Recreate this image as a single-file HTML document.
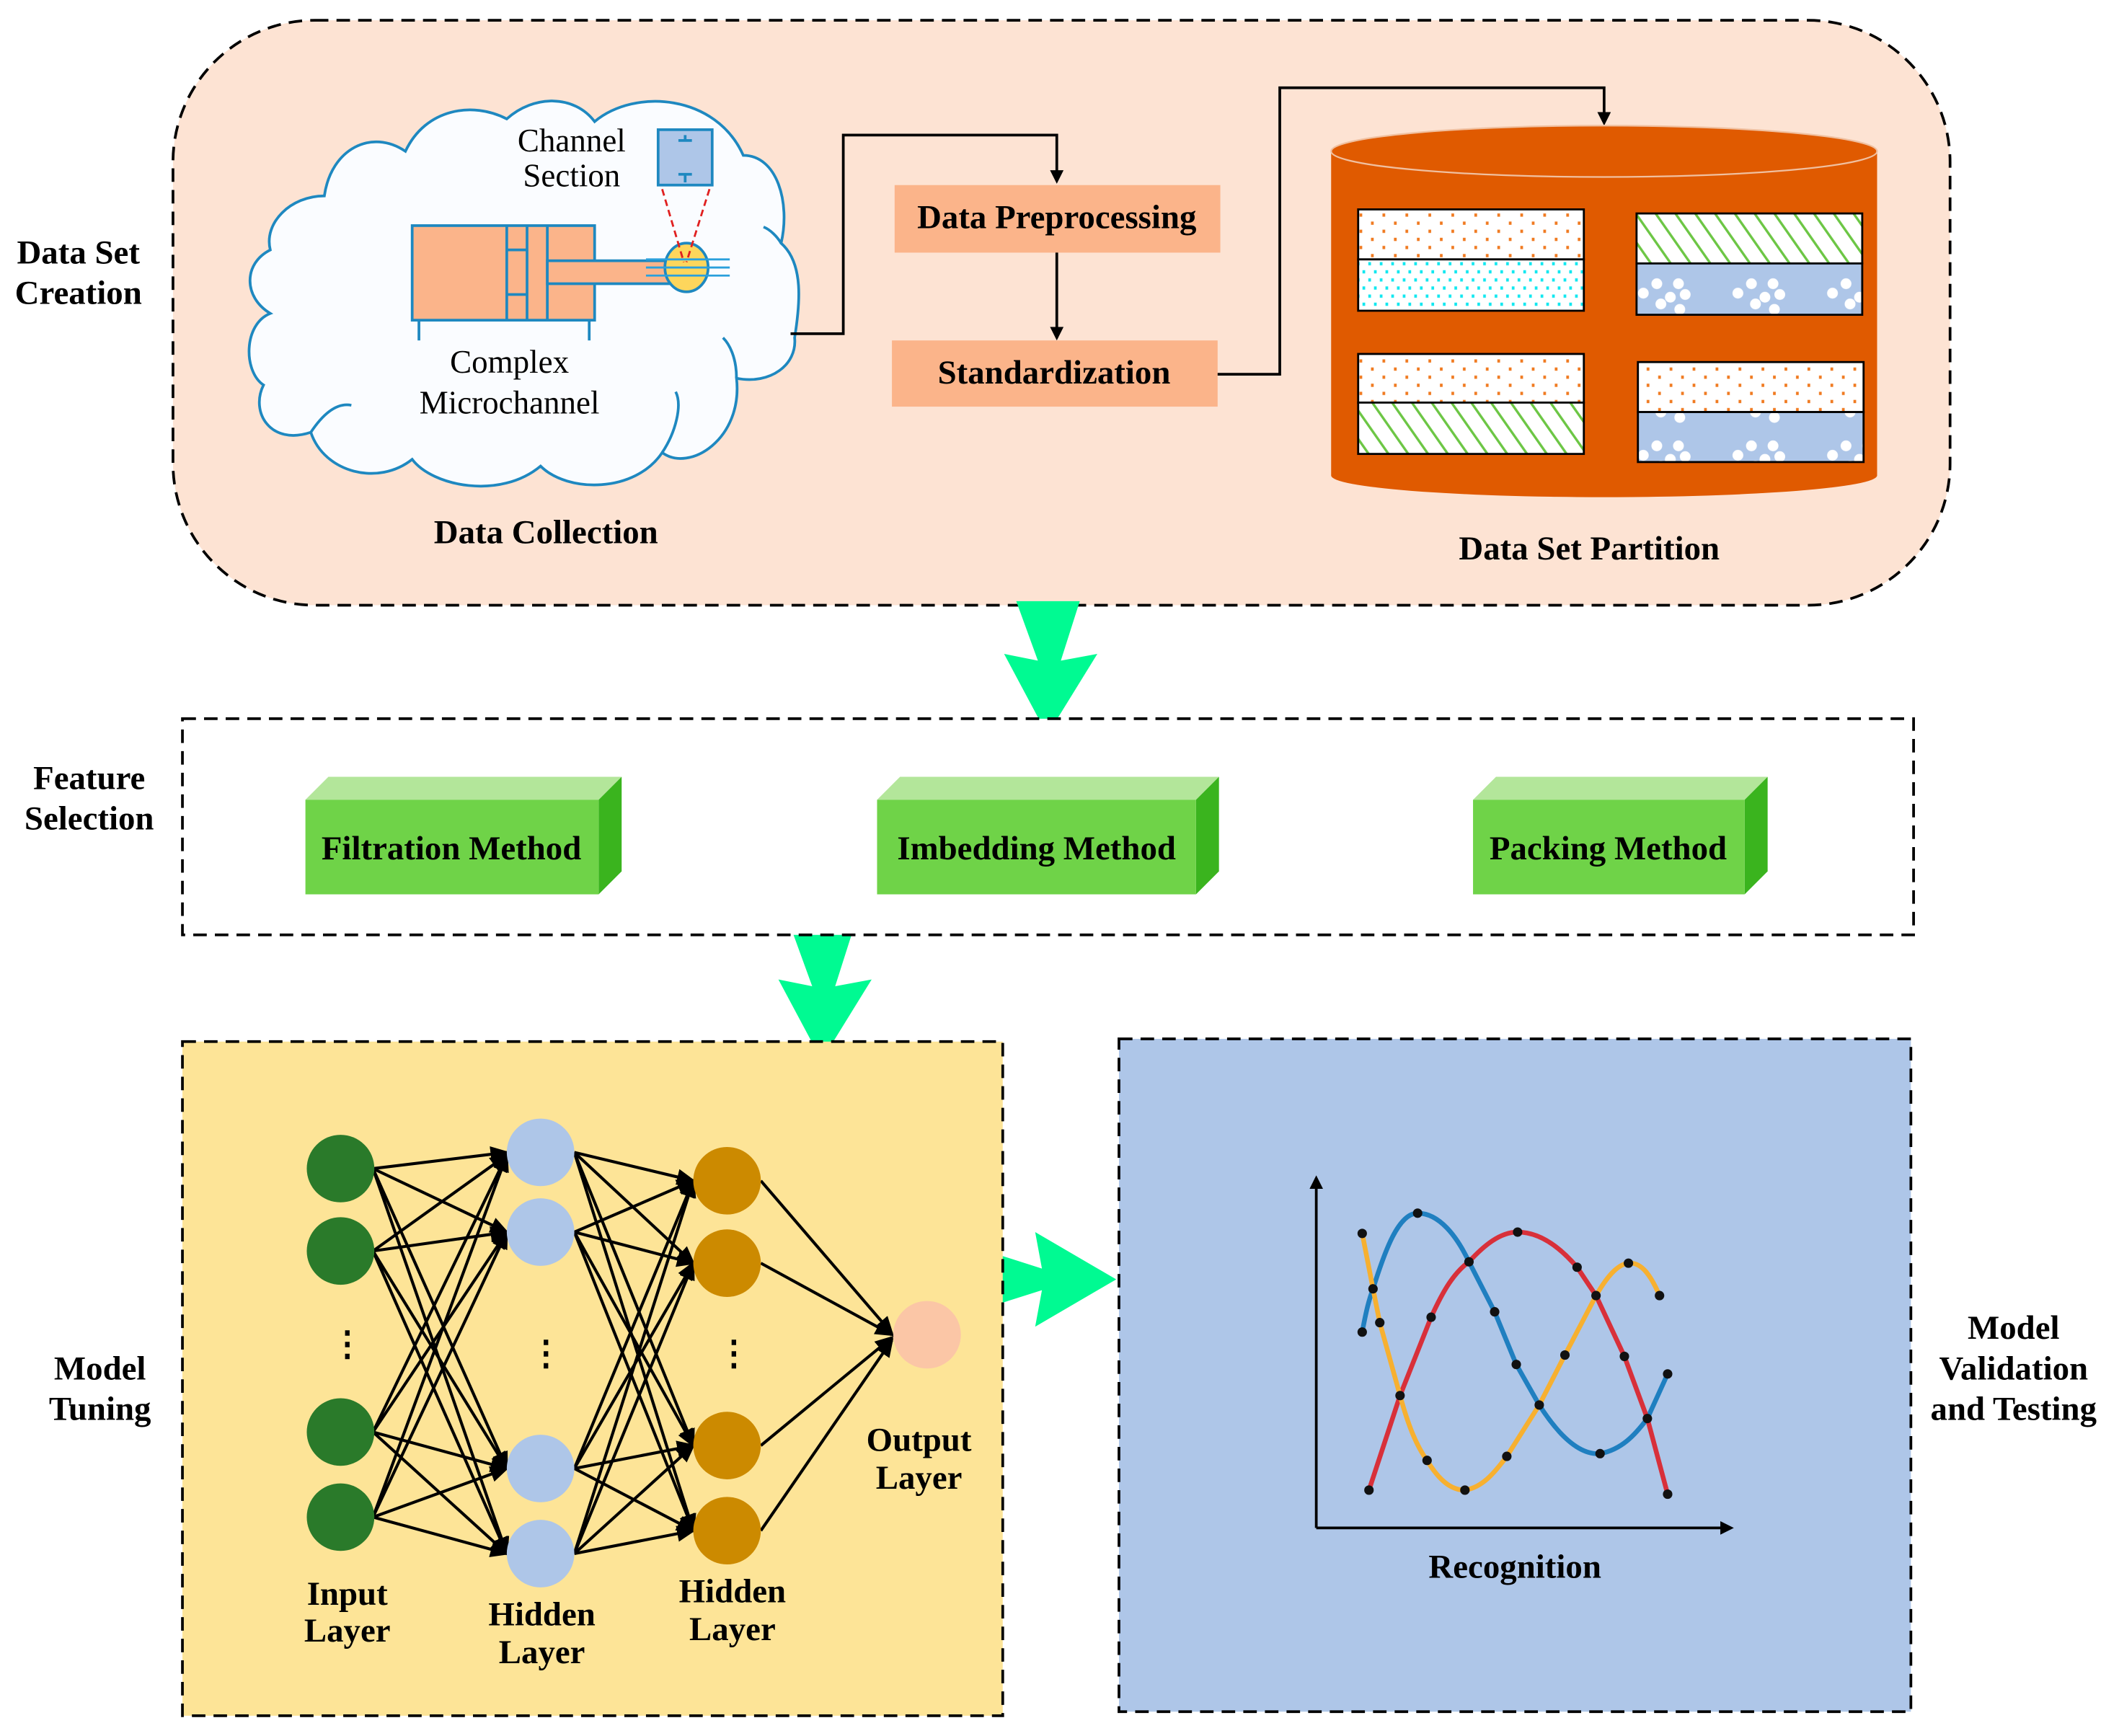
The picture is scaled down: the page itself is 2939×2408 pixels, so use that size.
<!DOCTYPE html>
<html><head><meta charset="utf-8">
<style>
html,body{margin:0;padding:0;background:#fff;}
svg{display:block;}
text{font-family:"Liberation Serif",serif;}
.b{font-weight:bold;font-size:25px;fill:#000;}
.n{font-size:24px;fill:#000;}
</style></head><body>
<svg width="2939" height="2408" viewBox="0 0 1568 1285" preserveAspectRatio="none" xmlns="http://www.w3.org/2000/svg">
<defs>
<pattern id="dots" width="17" height="12" patternUnits="userSpaceOnUse"><rect width="17" height="12" fill="#fff"/><rect x="3" y="2" width="2" height="2.4" fill="#f07a20"/><rect x="11.5" y="8" width="2" height="2.4" fill="#f07a20"/></pattern>
<pattern id="cyan" width="17" height="12" patternUnits="userSpaceOnUse"><rect width="17" height="12" fill="#fff"/><rect x="1" y="2" width="2" height="2.4" fill="#12e8f0"/><rect x="9.5" y="2" width="2" height="2.4" fill="#12e8f0"/><rect x="5.2" y="8" width="2" height="2.4" fill="#12e8f0"/><rect x="13.7" y="8" width="2" height="2.4" fill="#12e8f0"/></pattern>
<pattern id="diag" width="12" height="12" patternUnits="userSpaceOnUse" patternTransform="rotate(-35)"><rect width="12" height="12" fill="#fff"/><rect width="1.8" height="12" fill="#6cc644"/></pattern>
<pattern id="bub" width="70" height="40" patternUnits="userSpaceOnUse" x="20" y="0"><rect width="70" height="40" fill="#aec6e8"/><circle cx="6" cy="17" r="4" fill="#fff"/><circle cx="16" cy="10" r="4" fill="#fff"/><circle cx="19" cy="25" r="4" fill="#fff"/><circle cx="26" cy="20" r="4" fill="#fff"/><circle cx="32" cy="10" r="4" fill="#fff"/><circle cx="37" cy="18" r="4" fill="#fff"/><circle cx="33" cy="29" r="4" fill="#fff"/></pattern>
<marker id="ah" markerWidth="10" markerHeight="10" refX="8" refY="5" orient="auto" markerUnits="userSpaceOnUse"><path d="M0,0 L10,5 L0,10 z" fill="#000"/></marker>
<marker id="ah2" markerWidth="14" markerHeight="12" refX="12" refY="6" orient="auto" markerUnits="userSpaceOnUse"><path d="M0,0 L14,6 L0,12 z" fill="#000"/></marker>
</defs>

<rect x="128" y="15" width="1315" height="433" rx="105" fill="#fde3d3" stroke="#000" stroke-width="2" stroke-dasharray="10,6"/>
<text class="b" x="58" y="195" text-anchor="middle">Data Set</text>
<text class="b" x="58" y="225" text-anchor="middle">Creation</text>

<path d="M240,145 C245,110 275,95 300,112 C315,80 350,75 375,88 C395,70 425,70 440,90 C470,65 530,70 550,115 C575,115 585,150 578,180 C595,195 592,225 588,250 C590,270 570,285 545,280 C550,325 510,350 490,335 C470,365 420,365 400,345 C370,370 320,360 305,340 C280,360 240,350 230,320 C200,330 185,305 195,285 C180,275 180,240 200,232 C180,220 180,195 200,185 C195,165 215,145 240,145 z" fill="#fafcff" stroke="#1e88c0" stroke-width="2"/>
<path d="M230,320 C240,305 250,298 260,300 M490,335 C500,320 505,300 500,290 M545,280 C545,265 540,255 535,250 M578,180 C575,175 570,170 565,168" fill="none" stroke="#1e88c0" stroke-width="2"/>
<rect x="305" y="167" width="135" height="70" fill="#fbb48a" stroke="#1e88c0" stroke-width="2"/>
<line x1="375" y1="167" x2="375" y2="237" stroke="#1e88c0" stroke-width="2"/>
<line x1="390" y1="167" x2="390" y2="237" stroke="#1e88c0" stroke-width="2"/>
<line x1="405" y1="167" x2="405" y2="237" stroke="#1e88c0" stroke-width="2"/>
<line x1="375" y1="185" x2="390" y2="185" stroke="#1e88c0" stroke-width="2"/>
<line x1="375" y1="218" x2="390" y2="218" stroke="#1e88c0" stroke-width="2"/>
<line x1="310" y1="237" x2="310" y2="252" stroke="#1e88c0" stroke-width="2"/>
<line x1="436" y1="237" x2="436" y2="252" stroke="#1e88c0" stroke-width="2"/>
<rect x="405" y="193" width="95" height="17" fill="#fbb48a" stroke="#1e88c0" stroke-width="2"/>
<ellipse cx="508" cy="198" rx="16" ry="18" fill="#fdd65c" stroke="#1e88c0" stroke-width="2"/>
<line x1="478" y1="192" x2="540" y2="192" stroke="#2aa0dc" stroke-width="1.5"/>
<line x1="478" y1="198" x2="540" y2="198" stroke="#2aa0dc" stroke-width="1.5"/>
<line x1="478" y1="204" x2="540" y2="204" stroke="#2aa0dc" stroke-width="1.5"/>
<rect x="487" y="96" width="40" height="41" fill="#aec6e8" stroke="#1e88c0" stroke-width="2"/>
<path d="M502,104 h10 M507,100 v4 M502,129 h10 M507,129 v6" stroke="#1e88c0" stroke-width="2"/>
<line x1="490" y1="140" x2="506" y2="194" stroke="#e02020" stroke-width="1.5" stroke-dasharray="5,3"/>
<line x1="525" y1="140" x2="508" y2="194" stroke="#e02020" stroke-width="1.5" stroke-dasharray="5,3"/>
<text class="n" x="423" y="112" text-anchor="middle">Channel</text>
<text class="n" x="423" y="138" text-anchor="middle">Section</text>
<text class="n" x="377" y="276" text-anchor="middle">Complex</text>
<text class="n" x="377" y="306" text-anchor="middle">Microchannel</text>
<text class="b" x="404" y="402" text-anchor="middle">Data Collection</text>

<rect x="662" y="137" width="241" height="50" fill="#fbb48a"/>
<text class="b" x="782" y="169" text-anchor="middle">Data Preprocessing</text>
<rect x="660" y="252" width="241" height="49" fill="#fbb48a"/>
<text class="b" x="780" y="284" text-anchor="middle">Standardization</text>
<polyline points="585,247 624,247 624,100 782,100 782,134" fill="none" stroke="#000" stroke-width="2" marker-end="url(#ah)"/>
<line x1="782" y1="187" x2="782" y2="250" stroke="#000" stroke-width="2" marker-end="url(#ah)"/>
<polyline points="901,277 947,277 947,65 1187,65 1187,91" fill="none" stroke="#000" stroke-width="2" marker-end="url(#ah)"/>

<path d="M985,112 V352 A202,16 0 0 0 1389,352 V112 z" fill="#e05a00"/>
<ellipse cx="1187" cy="112" rx="202" ry="19" fill="#e05a00" stroke="#f0c0a0" stroke-width="1.2"/>
<rect x="1005" y="155" width="167" height="37" fill="url(#dots)" stroke="#000" stroke-width="1.5"/>
<rect x="1005" y="192" width="167" height="38" fill="url(#cyan)" stroke="#000" stroke-width="1.5"/>
<rect x="1211" y="158" width="167" height="37" fill="url(#diag)" stroke="#000" stroke-width="1.5"/>
<rect x="1211" y="195" width="167" height="38" fill="url(#bub)" stroke="#000" stroke-width="1.5"/>
<rect x="1005" y="262" width="167" height="36" fill="url(#dots)" stroke="#000" stroke-width="1.5"/>
<rect x="1005" y="298" width="167" height="38" fill="url(#diag)" stroke="#000" stroke-width="1.5"/>
<rect x="1212" y="268" width="167" height="37" fill="url(#dots)" stroke="#000" stroke-width="1.5"/>
<rect x="1212" y="305" width="167" height="37" fill="url(#bub)" stroke="#000" stroke-width="1.5"/>
<text class="b" x="1176" y="414" text-anchor="middle">Data Set Partition</text>

<polygon points="752,445 799,445 785,489 812,484 775,544 743,484 768,489" fill="#00fa92"/>
<polygon points="585,686 632,686 618,730 645,725 608,785 576,725 601,730" fill="#00fa92"/>
<polygon points="727,925 771,939 766,912 826,947 766,982 771,955 727,969" fill="#00fa92"/>

<rect x="135" y="532" width="1281" height="160" fill="#fff" stroke="#000" stroke-width="2" stroke-dasharray="10,6"/>
<text class="b" x="66" y="584" text-anchor="middle">Feature</text>
<text class="b" x="66" y="614" text-anchor="middle">Selection</text>
<polygon points="226,592 243,575 460,575 443,592" fill="#b3e69a"/>
<polygon points="443,592 460,575 460,645 443,662" fill="#3ab41e"/>
<rect x="226" y="592" width="217" height="70" fill="#6fd348"/>
<text class="b" x="334" y="636" text-anchor="middle">Filtration Method</text>
<polygon points="649,592 666,575 902,575 885,592" fill="#b3e69a"/>
<polygon points="885,592 902,575 902,645 885,662" fill="#3ab41e"/>
<rect x="649" y="592" width="236" height="70" fill="#6fd348"/>
<text class="b" x="767" y="636" text-anchor="middle">Imbedding Method</text>
<polygon points="1090,592 1107,575 1308,575 1291,592" fill="#b3e69a"/>
<polygon points="1291,592 1308,575 1308,645 1291,662" fill="#3ab41e"/>
<rect x="1090" y="592" width="201" height="70" fill="#6fd348"/>
<text class="b" x="1190" y="636" text-anchor="middle">Packing Method</text>

<rect x="135" y="771" width="607" height="499" fill="#fde497" stroke="#000" stroke-width="2" stroke-dasharray="10,6"/>
<text class="b" x="74" y="1021" text-anchor="middle">Model</text>
<text class="b" x="74" y="1051" text-anchor="middle">Tuning</text>
<g stroke="#000" stroke-width="2.2" marker-end="url(#ah2)">
<line x1="276" y1="865" x2="375" y2="853"/><line x1="276" y1="865" x2="375" y2="912"/><line x1="276" y1="865" x2="375" y2="1087"/><line x1="276" y1="865" x2="375" y2="1150"/>
<line x1="276" y1="926" x2="375" y2="855"/><line x1="276" y1="926" x2="375" y2="912"/><line x1="276" y1="926" x2="375" y2="1087"/><line x1="276" y1="926" x2="375" y2="1150"/>
<line x1="276" y1="1060" x2="375" y2="855"/><line x1="276" y1="1060" x2="375" y2="912"/><line x1="276" y1="1060" x2="375" y2="1087"/><line x1="276" y1="1060" x2="375" y2="1150"/>
<line x1="276" y1="1123" x2="375" y2="855"/><line x1="276" y1="1123" x2="375" y2="912"/><line x1="276" y1="1123" x2="375" y2="1087"/><line x1="276" y1="1123" x2="375" y2="1150"/>
<line x1="425" y1="853" x2="513" y2="874"/><line x1="425" y1="853" x2="513" y2="935"/><line x1="425" y1="853" x2="513" y2="1070"/><line x1="425" y1="853" x2="513" y2="1133"/>
<line x1="425" y1="912" x2="513" y2="874"/><line x1="425" y1="912" x2="513" y2="935"/><line x1="425" y1="912" x2="513" y2="1070"/><line x1="425" y1="912" x2="513" y2="1133"/>
<line x1="425" y1="1087" x2="513" y2="874"/><line x1="425" y1="1087" x2="513" y2="935"/><line x1="425" y1="1087" x2="513" y2="1070"/><line x1="425" y1="1087" x2="513" y2="1133"/>
<line x1="425" y1="1150" x2="513" y2="874"/><line x1="425" y1="1150" x2="513" y2="935"/><line x1="425" y1="1150" x2="513" y2="1070"/><line x1="425" y1="1150" x2="513" y2="1133"/>
<line x1="563" y1="874" x2="660" y2="987"/><line x1="563" y1="935" x2="660" y2="988"/><line x1="563" y1="1070" x2="660" y2="990"/><line x1="563" y1="1133" x2="660" y2="992"/>
</g>
<circle cx="252" cy="865" r="25" fill="#2a7a2a"/><circle cx="252" cy="926" r="25" fill="#2a7a2a"/>
<circle cx="252" cy="1060" r="25" fill="#2a7a2a"/><circle cx="252" cy="1123" r="25" fill="#2a7a2a"/>
<circle cx="400" cy="853" r="25" fill="#aec6e8"/><circle cx="400" cy="912" r="25" fill="#aec6e8"/>
<circle cx="400" cy="1087" r="25" fill="#aec6e8"/><circle cx="400" cy="1150" r="25" fill="#aec6e8"/>
<circle cx="538" cy="874" r="25" fill="#cc8a00"/><circle cx="538" cy="935" r="25" fill="#cc8a00"/>
<circle cx="538" cy="1070" r="25" fill="#cc8a00"/><circle cx="538" cy="1133" r="25" fill="#cc8a00"/>
<circle cx="686" cy="988" r="25" fill="#fbc6a6"/>
<text class="b" x="257" y="1003" text-anchor="middle">⋮</text>
<text class="b" x="404" y="1010" text-anchor="middle">⋮</text>
<text class="b" x="543" y="1010" text-anchor="middle">⋮</text>
<text class="b" x="257" y="1188" text-anchor="middle">Input</text>
<text class="b" x="257" y="1215" text-anchor="middle">Layer</text>
<text class="b" x="401" y="1203" text-anchor="middle">Hidden</text>
<text class="b" x="401" y="1231" text-anchor="middle">Layer</text>
<text class="b" x="542" y="1186" text-anchor="middle">Hidden</text>
<text class="b" x="542" y="1214" text-anchor="middle">Layer</text>
<text class="b" x="680" y="1074" text-anchor="middle">Output</text>
<text class="b" x="680" y="1102" text-anchor="middle">Layer</text>

<rect x="828" y="769" width="586" height="498" fill="#aec6e8" stroke="#000" stroke-width="2" stroke-dasharray="10,6"/>
<text class="b" x="1490" y="991" text-anchor="middle">Model</text>
<text class="b" x="1490" y="1021" text-anchor="middle">Validation</text>
<text class="b" x="1490" y="1051" text-anchor="middle">and Testing</text>
<line x1="974" y1="1131" x2="974" y2="872" stroke="#000" stroke-width="2" marker-end="url(#ah)"/>
<line x1="974" y1="1131" x2="1281" y2="1131" stroke="#000" stroke-width="2" marker-end="url(#ah)"/>
<g fill="none" stroke-width="3.5" stroke-linejoin="round" stroke-linecap="round">
<path d="M1008,986 C1011,970 1013,962 1016,954 C1025,925 1035,898 1049,898 C1065,898 1078,915 1087,934 L1106,971 L1122,1010 L1139,1040 C1155,1065 1170,1077 1184,1076 C1200,1073 1210,1062 1219,1050 L1234,1017" stroke="#1f7fc0"/>
<path d="M1013,1103 L1036,1033 L1059,975 C1068,955 1076,942 1087,934 C1098,922 1110,912 1123,912 C1140,912 1155,924 1167,938 L1181,959 L1202,1004 L1219,1050 L1234,1106" stroke="#d8303a"/>
<path d="M1008,913 L1016,954 L1021,979 L1036,1033 C1042,1055 1048,1070 1056,1081 C1065,1096 1074,1103 1084,1103 C1097,1101 1106,1090 1115,1078 L1139,1040 L1158,1003 L1181,959 C1188,947 1196,936 1205,935 C1215,934 1222,945 1228,959" stroke="#f7b030"/>
</g>
<g fill="#111">
<circle cx="1008" cy="986" r="3.5"/><circle cx="1016" cy="954" r="3.5"/><circle cx="1049" cy="898" r="3.5"/><circle cx="1087" cy="934" r="3.5"/><circle cx="1106" cy="971" r="3.5"/><circle cx="1122" cy="1010" r="3.5"/><circle cx="1139" cy="1040" r="3.5"/><circle cx="1184" cy="1076" r="3.5"/><circle cx="1219" cy="1050" r="3.5"/><circle cx="1234" cy="1017" r="3.5"/>
<circle cx="1013" cy="1103" r="3.5"/><circle cx="1036" cy="1033" r="3.5"/><circle cx="1059" cy="975" r="3.5"/><circle cx="1123" cy="912" r="3.5"/><circle cx="1167" cy="938" r="3.5"/><circle cx="1181" cy="959" r="3.5"/><circle cx="1202" cy="1004" r="3.5"/><circle cx="1234" cy="1106" r="3.5"/>
<circle cx="1008" cy="913" r="3.5"/><circle cx="1021" cy="979" r="3.5"/><circle cx="1056" cy="1081" r="3.5"/><circle cx="1084" cy="1103" r="3.5"/><circle cx="1115" cy="1078" r="3.5"/><circle cx="1158" cy="1003" r="3.5"/><circle cx="1205" cy="935" r="3.5"/><circle cx="1228" cy="959" r="3.5"/>
</g>
<text class="b" x="1121" y="1168" text-anchor="middle">Recognition</text>
</svg>
</body></html>
